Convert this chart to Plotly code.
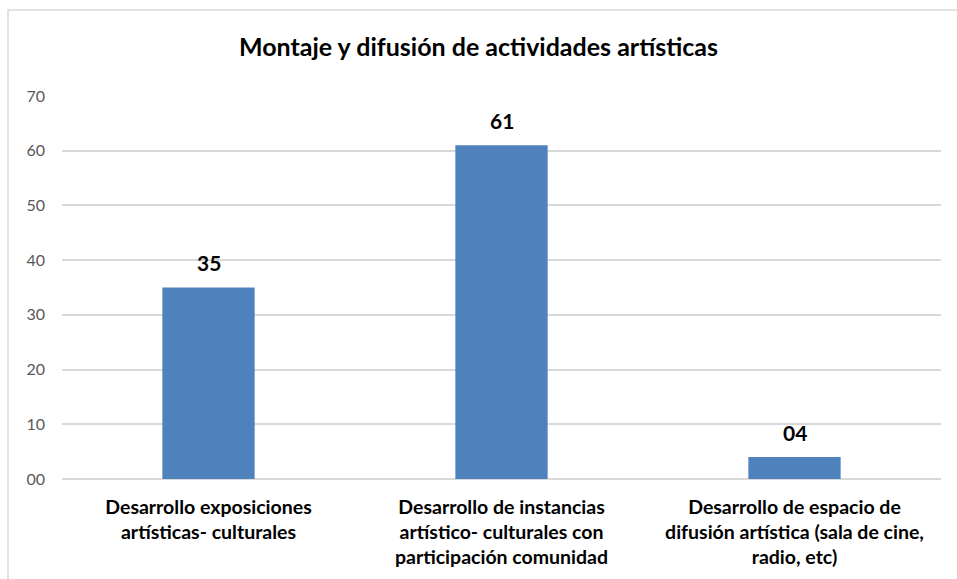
import plotly.graph_objects as go

# data
categorias = [
    "Desarrollo exposiciones<br>artísticas- culturales",
    "Desarrollo de instancias<br>artístico- culturales con<br>participación comunidad",
    "Desarrollo de espacio de<br>difusión artística (sala de cine,<br>radio, etc)",
]
valores = [35, 61, 4]
etiquetas = [f"{v:02d}" for v in valores]
ticks_y = list(range(0, 71, 10))
ticks_y_txt = [f"{t:02d}" for t in ticks_y]

W, H = 957, 579
ML, MR, MT, MB = 62, 16, 96, 100
plot_w = W - ML - MR
plot_h = H - MT - MB
FONT = "Lato, Open Sans, sans-serif"

fig = go.Figure()
fig.add_trace(go.Bar(
    x=categorias,
    y=valores,
    marker=dict(color="#4F81BD", line=dict(width=0)),
    width=0.315,
    hoverinfo="x+y",
))

# value labels above the bars
for c, v, t in zip(categorias, valores, etiquetas):
    fig.add_annotation(
        x=c, y=v, text=f"<b>{t}</b>", showarrow=False,
        yanchor="middle", yshift=25,
        font=dict(family=FONT, size=21, color="black"),
    )

fig.update_layout(
    width=W, height=H,
    margin=dict(l=ML, r=MR, t=MT, b=MB),
    paper_bgcolor="white",
    plot_bgcolor="white",
    showlegend=False,
    font=dict(family=FONT),
    title=dict(
        text="<b>Montaje y difusión de actividades artísticas</b>",
        x=0.5, xanchor="center",
        y=1 - 47 / H, yanchor="middle",
        font=dict(size=25, color="black"),
    ),
    xaxis=dict(
        showgrid=False, showline=False, zeroline=False, ticks="",
        ticklabelstandoff=14,
        tickfont=dict(size=19.5, color="black", weight="bold"),
    ),
    yaxis=dict(
        range=[0, 70],
        tickvals=ticks_y, ticktext=ticks_y_txt,
        showgrid=True, gridcolor="#D9D9D9", gridwidth=1.5,
        zeroline=True, zerolinecolor="#D9D9D9", zerolinewidth=1.5,
        showline=False, ticks="", ticklabelstandoff=16,
        tickfont=dict(size=16, color="#595959"),
    ),
)

# outer chart frame (left and top edges visible in the reference)
fig.add_shape(
    type="rect", xref="paper", yref="paper",
    x0=(8 - ML) / plot_w, x1=(W + 20 - ML) / plot_w,
    y0=(H - MB - (H + 20)) / plot_h, y1=(H - MB - 10) / plot_h,
    line=dict(color="#D9D9D9", width=1.5),
    fillcolor="rgba(0,0,0,0)",
    layer="below",
)

fig.write_html(
    "out.html",
    config={"displayModeBar": False},
    post_script="document.body.style.margin='0';document.body.style.overflow='hidden';",
)
